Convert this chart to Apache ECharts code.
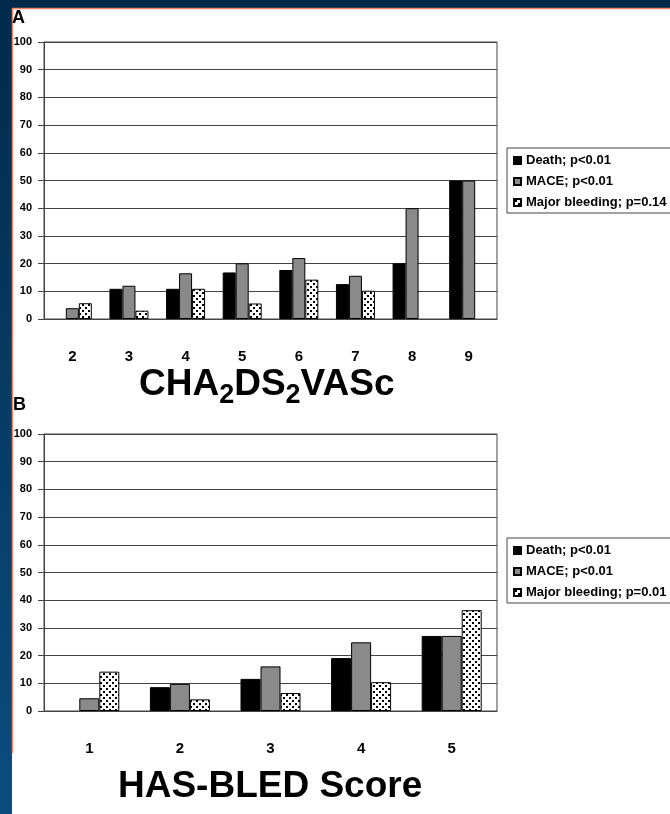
<!DOCTYPE html>
<html>
<head>
<meta charset="utf-8">
<script src="https://cdn.jsdelivr.net/npm/echarts@6/dist/echarts.min.js"></script>
<style>
html, body { margin: 0; padding: 0; }
#main { width: 670px; height: 814px; }
</style>
</head>
<body>
<div id="main"></div>
<script>
// A: CHA2DS2VASc score
var scoresA = ['2', '3', '4', '5', '6', '7', '8', '9'];
var deathA = [0, 10.9, 10.9, 16.8, 17.7, 12.6, 20.1, 50];
var maceA = [3.9, 12.0, 16.5, 20.1, 22.0, 15.6, 40.0, 50];
var bleedA = [5.7, 3.0, 10.9, 5.6, 14.2, 10.2, 0, 0];
var namesA = ['Death; p<0.01', 'MACE; p<0.01', 'Major bleeding; p=0.14'];

// B: HAS-BLED score
var scoresB = ['1', '2', '3', '4', '5'];
var deathB = [0, 8.6, 11.6, 19.1, 27.1];
var maceB = [4.6, 9.8, 16.1, 24.8, 27.1];
var bleedB = [14.2, 4.2, 6.5, 10.4, 36.4];
var namesB = ['Death; p<0.01', 'MACE; p<0.01', 'Major bleeding; p=0.01'];

var yTicks = [0, 100, 10];

var FONT = '"Liberation Sans", Arial, sans-serif';

// dotted fill for the bleeding bars
function dotPattern() {
    var c = document.createElement('canvas');
    c.width = 6;
    c.height = 6;
    var g = c.getContext('2d');
    g.fillStyle = '#fff';
    g.fillRect(0, 0, 6, 6);
    g.fillStyle = '#000';
    g.fillRect(1, 1, 2, 2);
    g.fillRect(4, 4, 2, 2);
    return c;
}
var dots = { image: dotPattern(), repeat: 'repeat' };
var colors = ['#000000', '#8a8a8a', dots];

function bars(name, data, color, idx, w) {
    return {
        type: 'bar',
        name: name,
        // a zero bar has no outline in the original
        data: data.map(function (v) {
            return v === 0 ? { value: v, itemStyle: { borderWidth: 0 } } : v;
        }),
        xAxisIndex: idx,
        yAxisIndex: idx,
        barWidth: w,
        barGap: '0%',
        itemStyle: { color: color, borderColor: '#000', borderWidth: 1 }
    };
}

function xAxis(cats, idx) {
    return {
        type: 'category',
        gridIndex: idx,
        data: cats,
        axisLine: { lineStyle: { color: '#444', width: 1 } },
        axisTick: { length: 5, lineStyle: { color: '#444' } },
        axisLabel: { margin: 30, color: '#000', fontSize: 15, fontWeight: 'bold', fontFamily: FONT }
    };
}

function yAxis(idx) {
    return {
        type: 'value',
        gridIndex: idx,
        min: yTicks[0],
        max: yTicks[1],
        interval: yTicks[2],
        axisLine: { show: true, lineStyle: { color: '#444', width: 1 } },
        axisTick: { show: true, length: 6, lineStyle: { color: '#444' } },
        axisLabel: { margin: 12, color: '#000', fontSize: 11, fontWeight: 'bold', fontFamily: FONT },
        splitLine: { lineStyle: { color: '#444', width: 1 } }
    };
}

function legend(names, top) {
    return {
        data: names,
        orient: 'vertical',
        left: 507,
        top: top,
        padding: [6, 6, 4, 6],
        itemGap: 8,
        itemWidth: 7,
        itemHeight: 7,
        icon: 'rect',
        selectedMode: false,
        borderColor: '#444',
        borderWidth: 1,
        textStyle: { color: '#000', fontSize: 13, fontWeight: 'bold', fontFamily: FONT }
    };
}

var chart = echarts.init(document.getElementById('main'));

var option = {
    backgroundColor: '#01294a',
    animation: false,
    graphic: [
        { type: 'rect', z: -10, shape: { x: 0, y: 0, width: 12, height: 814 },
          style: { fill: new echarts.graphic.LinearGradient(0, 0, 0, 1, [
              { offset: 0, color: '#012a4b' }, { offset: 1, color: '#0b4c7e' }]) } },
        { type: 'rect', z: -10, shape: { x: 12, y: 8, width: 658, height: 806 }, style: { fill: '#fff' } },
        { type: 'line', z: -9, shape: { x1: 12, y1: 8.5, x2: 670, y2: 8.5 }, style: { stroke: '#f08466', lineWidth: 1.5 } },
        { type: 'line', z: -9, shape: { x1: 12.5, y1: 8, x2: 12.5, y2: 753 }, style: { stroke: '#f08466', lineWidth: 1.5 } },
        { type: 'text', left: 12, top: 9, style: { text: 'A', fontSize: 18, fontWeight: 'bold', fontFamily: FONT, fill: '#000' } },
        { type: 'text', left: 13, top: 396, style: { text: 'B', fontSize: 18, fontWeight: 'bold', fontFamily: FONT, fill: '#000' } },
        { type: 'text', left: 139, top: 366, style: {
            text: '{m|CHA}{s|2}{m|DS}{s|2}{m|VASc}',
            fill: '#000',
            rich: {
                m: { fontSize: 37, fontWeight: 'bold', fontFamily: FONT, lineHeight: 40 },
                s: { fontSize: 27, fontWeight: 'bold', fontFamily: FONT, padding: [22, 0, 0, 0] }
            }
        } },
        { type: 'text', left: 118, top: 768, style: { text: 'HAS-BLED Score', fontSize: 37, fontWeight: 'bold', fontFamily: FONT, fill: '#000' } }
    ],
    legend: [legend(namesA, 148), legend(namesB, 538)],
    grid: [
        { left: 44, top: 42, width: 453, height: 277, show: true, borderColor: '#444', borderWidth: 1 },
        { left: 44, top: 434, width: 453, height: 277, show: true, borderColor: '#444', borderWidth: 1 }
    ],
    xAxis: [xAxis(scoresA, 0), xAxis(scoresB, 1)],
    yAxis: [yAxis(0), yAxis(1)],
    series: [
        bars(namesA[0], deathA, colors[0], 0, 13),
        bars(namesA[1], maceA, colors[1], 0, 13),
        bars(namesA[2], bleedA, colors[2], 0, 13),
        bars(namesB[0], deathB, colors[0], 1, 20),
        bars(namesB[1], maceB, colors[1], 1, 20),
        bars(namesB[2], bleedB, colors[2], 1, 20)
    ]
};

chart.setOption(option);
window.addEventListener('resize', function () {
    chart.resize();
});
</script>
</body>
</html>
